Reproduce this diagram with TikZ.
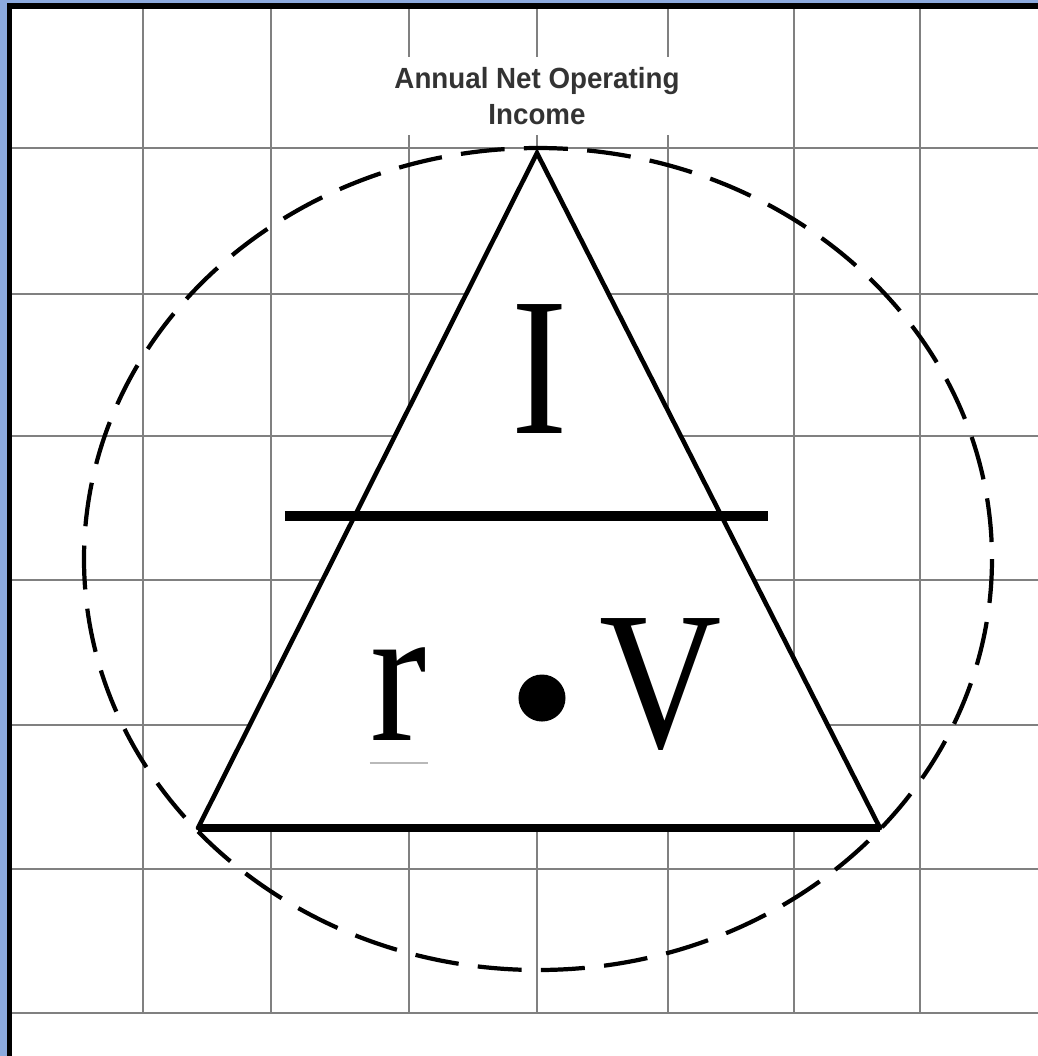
\documentclass[tikz,border=0pt]{standalone}
\usepackage{fontspec}
\setmainfont{Liberation Serif}
\newfontfamily\capfont{Liberation Sans}
\usetikzlibrary{calc}
\definecolor{frameblue}{RGB}{140,170,222}

\begin{document}
\begin{tikzpicture}[x=0.01cm, y=-0.01cm,
    gridline/.style={draw=black!50, line width=0.75pt},
    side/.style={line width=1.3pt, line cap=round},
    base/.style={line width=2.4pt},
    bar/.style={line width=2.6pt},
    ring/.style={dash pattern=on 12.5pt off 5.5pt, line width=1.2pt},
    letter/.style={font=\fontsize{56}{56}\selectfont, inner sep=0pt, xscale=0.86},
    caption/.style={font=\capfont\bfseries\fontsize{8.3}{10}\selectfont, text=black!80,
                    align=center, fill=white, inner xsep=4pt, inner ysep=3pt, xscale=0.95}
  ]
  \useasboundingbox (0,0) rectangle (1038,1056);
  \fill[white] (0,0) rectangle (1038,1056);

  % frame on the left and top
  \fill[frameblue] (0,0) rectangle (7,1056);
  \fill[frameblue] (0,0) rectangle (1038,3);
  \fill[black] (7,3) rectangle (12,1056);
  \fill[black] (7,3) rectangle (1038,9);

  % grid
  \foreach \gx in {143,271,409,537,668,794,920}
    \draw[gridline] (\gx,9) -- (\gx,1013);
  \foreach \gy in {148,294,436,580,725,869,1013}
    \draw[gridline] (12,\gy) -- (1038,\gy);

  % triangle corners
  \coordinate (apex) at (537,153);
  \coordinate (left) at (198,828);
  \coordinate (right) at (880,828);
  \fill[white] (left) -- (apex) -- (right) -- cycle;

  % dashed ring
  \draw[ring] (538,559) ellipse [x radius=454, y radius=411];

  % triangle
  \draw[side] (left) -- (apex) -- (right);
  \draw[base] (left) -- (right);

  % dividing bar
  \coordinate (barL) at (285,516);
  \coordinate (barR) at (768,516);
  \draw[bar] (barL) -- (barR);

  % letters
  \node[letter, anchor=base] (inc) at (540,433) {I};
  \node[letter, anchor=base] (rate) at (399,740) {r};
  \node[circle, fill=black, inner sep=0pt, minimum size=0.47cm] (dot) at (542,698) {};
  \node[letter, anchor=base] (val) at (661,747) {V};
  \draw[gray!55, line width=0.8pt] (370,763) -- (428,763);

  \node[caption] (title) at (537,96) {Annual Net Operating\\Income};
\end{tikzpicture}
\end{document}
